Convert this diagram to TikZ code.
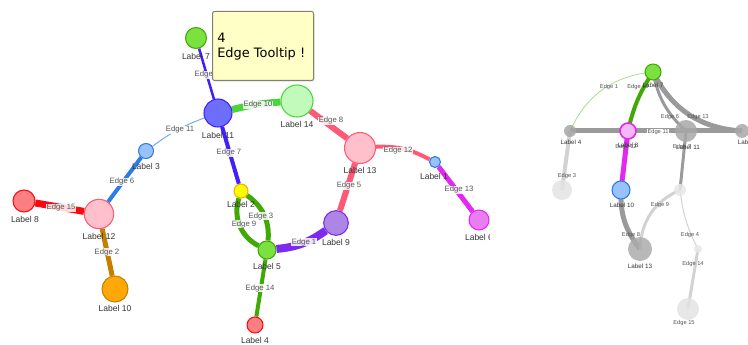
\documentclass[tikz,border=0pt]{standalone}
\usepackage{fontspec}
\setmainfont{Liberation Sans}
\newfontfamily\tipfont{DejaVu Sans}
\usetikzlibrary{shadows}
\pgfdeclarelayer{bg}
\pgfdeclarelayer{fg}
\pgfsetlayers{bg,main,fg}
\definecolor{gzbg}{HTML}{97C2FC}\definecolor{gzbd}{HTML}{2B7CE9}
\definecolor{gabg}{HTML}{FFFF00}\definecolor{gabd}{HTML}{FFA500}
\definecolor{gbbg}{HTML}{FB7E81}\definecolor{gbbd}{HTML}{FA0A10}
\definecolor{gcbg}{HTML}{7BE141}\definecolor{gcbd}{HTML}{41A906}
\definecolor{gdbg}{HTML}{EB7DF4}\definecolor{gdbd}{HTML}{E129F0}
\definecolor{gebg}{HTML}{AD85E4}\definecolor{gebd}{HTML}{7C29F0}
\definecolor{gfbg}{HTML}{FFA807}\definecolor{gfbd}{HTML}{C37F00}
\definecolor{ggbg}{HTML}{6E6EFD}\definecolor{ggbd}{HTML}{4220FB}
\definecolor{ghbg}{HTML}{FFC0CB}\definecolor{ghbd}{HTML}{FD5A77}
\definecolor{gibg}{HTML}{C2FABC}\definecolor{gibd}{HTML}{4AD63A}
\definecolor{labcol}{HTML}{343434}
\definecolor{elabcol}{HTML}{555555}
\definecolor{tipfill}{HTML}{FFFFC6}
\definecolor{tipline}{HTML}{808074}
\definecolor{darkg}{HTML}{9A9A9A}
\definecolor{lightg}{HTML}{D2D2D2}
\definecolor{paleg}{HTML}{A8E08C}
\tikzset{
  vn/.style={circle, inner sep=0pt, line width=0.8pt},
  grpz/.style={vn, fill=gzbg, draw=gzbd},
  grpa/.style={vn, fill=gabg, draw=gabd},
  grpb/.style={vn, fill=gbbg, draw=gbbd},
  grpc/.style={vn, fill=gcbg, draw=gcbd},
  grpd/.style={vn, fill=gdbg, draw=gdbd},
  grpe/.style={vn, fill=gebg, draw=gebd},
  grpf/.style={vn, fill=gfbg, draw=gfbd},
  grpg/.style={vn, fill=ggbg, draw=ggbd},
  grph/.style={vn, fill=ghbg, draw=ghbd},
  grpi/.style={vn, fill=gibg, draw=gibd},
  grayn/.style={circle, inner sep=0pt, fill=#1, fill opacity=0.85},
  nlab/.style={font=\fontsize{6.4}{7}\selectfont, text=labcol, inner sep=0pt},
  elab/.style={font=\fontsize{5.8}{6.5}\selectfont, text=elabcol, fill=white, fill opacity=0.85, text opacity=1, inner sep=0.4pt},
  rlab/.style={font=\fontsize{4.7}{5.2}\selectfont, text=labcol, inner sep=0pt},
  relab/.style={font=\fontsize{4.3}{5}\selectfont, text=elabcol, inner sep=0.3pt},
  edg/.style={line width=#1},
  tipbox/.style={draw=tipline, fill=tipfill, line width=0.75pt, rounded corners=1.5pt,
     drop shadow={opacity=0.25, shadow xshift=0.8pt, shadow yshift=-0.8pt}},
  tiptext/.style={font=\tipfont\fontsize{9.7}{11}\selectfont, inner sep=0pt, text=black},
}
\begin{document}
\begin{tikzpicture}[x=0.75pt,y=-0.75pt]
\useasboundingbox (0,0) rectangle (748,345);
% ---------- left network: nodes ----------
\node[grpc, minimum size=15.75pt] (n7) at (196,38) {};
\node[grpg, minimum size=21pt] (n11) at (218,113) {};
\node[grpi, minimum size=24pt] (n14) at (297,101) {};
\node[grph, minimum size=23.25pt] (n13) at (360,148) {};
\node[grpz, minimum size=8.25pt] (n1) at (435,162) {};
\node[grpd, minimum size=15pt] (n6) at (479,220) {};
\node[grpz, minimum size=11.25pt] (n3) at (146,151) {};
\node[grph, minimum size=22pt] (n12) at (99,214) {};
\node[grpb, minimum size=16.5pt] (n8) at (24,201) {};
\node[grpf, minimum size=19.5pt] (n10) at (115,289) {};
\node[grpa, minimum size=10.5pt] (n2) at (241,191) {};
\node[grpc, minimum size=13.5pt] (n5) at (267,250) {};
\node[grpe, minimum size=18.5pt] (n9) at (336,223) {};
\node[grpb, minimum size=12pt] (n4) at (255,325) {};
% ---------- left network: edges ----------
\begin{pgfonlayer}{bg}
\draw[edg=1.9pt, ggbd] (n7) -- (n11);
\draw[edg=5.25pt, gibd] (n11) to[bend left=5] (n14);
\draw[edg=4.5pt, ghbd] (n14) -- (n13);
\draw[edg=3pt, ghbd] (n13) to[bend left=15] (n1);
\draw[edg=3.75pt, gdbd] (n1) -- (n6);
\draw[edg=4.5pt, ghbd] (n13) -- (n9);
\draw[edg=6pt, gebd] (n9) to[bend left=15] (n5);
\draw[edg=3pt, ggbd] (n11) -- (n2);
\draw[edg=3.75pt, gcbd] (n2) to[bend left=30] (n5);
\draw[edg=3.75pt, gcbd] (n2) to[bend right=40] (n5);
\draw[edg=3pt, gcbd] (n5) -- (n4);
\draw[edg=0.75pt, gzbd!65] (n11) to[bend right=8] (n3);
\draw[edg=3pt, gzbd] (n3) -- (n12);
\draw[edg=5.25pt, gbbd] (n12) -- (n8);
\draw[edg=3.75pt, gfbd] (n12) -- (n10);
\end{pgfonlayer}
% ---------- left network: node labels ----------
\node[nlab] (t7) at (196,56) {Label 7};
\node[nlab] (t11) at (218,135) {Label 11};
\node[nlab] (t14) at (297,124) {Label 14};
\node[nlab] (t13) at (360,170) {Label 13};
\node[nlab] (t1) at (434,176) {Label 1};
\begin{scope}
\clip (0,0) rectangle (489,345);
\node[nlab] (t6) at (479,237) {Label 6};
\end{scope}
\node[nlab] (t3) at (146,166) {Label 3};
\node[nlab] (t12) at (99,236) {Label 12};
\node[nlab] (t8) at (25,219) {Label 8};
\node[nlab] (t10) at (115,308) {Label 10};
\node[nlab] (t2) at (241,204) {Label 2};
\node[nlab] (t5) at (267,266) {Label 5};
\node[nlab] (t9) at (336,242) {Label 9};
\node[nlab] (t4) at (255,340) {Label 4};
% ---------- left network: edge labels ----------
\node[elab] (l4) at (207,75) {Edge 4};
\node[elab] (l10) at (258,105) {Edge 10};
\node[elab] (l8) at (331,121) {Edge 8};
\node[elab] (l12) at (398,151) {Edge 12};
\node[elab] (l13) at (459,190) {Edge 13};
\node[elab] (l5) at (349,186) {Edge 5};
\node[elab] (l1) at (304,242) {Edge 1};
\node[elab] (l7) at (229,153) {Edge 7};
\node[elab] (l3) at (261,216) {Edge 3};
\node[elab] (l9) at (244,224) {Edge 9};
\node[elab] (l14) at (260,288) {Edge 14};
\node[elab] (l11) at (180,130) {Edge 11};
\node[elab] (l6) at (122,182) {Edge 6};
\node[elab] (l15) at (61,208) {Edge 15};
\node[elab] (l2) at (107,252) {Edge 2};
% ---------- right network: nodes ----------
\node[vn, fill=gcbg, draw=gcbd, minimum size=12pt] (r7) at (653,72) {};
\node[vn, fill=gdbg!55, draw=gdbd, line width=1.2pt, minimum size=12pt] (r8) at (628,131) {};
\node[grpz, minimum size=13.5pt] (r10) at (621,190) {};
\node[grayn={black!35}, minimum size=9pt] (r4) at (570,131) {};
\node[grayn={black!34}, minimum size=16.5pt] (r11) at (686,131) {};
\node[grayn={black!34}, minimum size=10.5pt] (rR) at (742,131) {};
\node[grayn={black!11}, minimum size=15pt] (r3) at (562,190) {};
\node[grayn={black!9}, minimum size=9pt] (r6) at (680,190) {};
\node[grayn={black!33}, minimum size=18pt] (r13) at (640,249) {};
\node[grayn={black!9}, minimum size=6pt] (r14) at (698,249) {};
\node[grayn={black!11}, minimum size=16.5pt] (r15) at (688,309) {};
% ---------- right network: edges ----------
\begin{pgfonlayer}{bg}
\draw[edg=0.6pt, paleg] (r4.center) to[bend left=30] (r7.center);
\draw[edg=3pt, gcbd] (r7.center) to[bend right=10] (r8.center);
\draw[edg=3.75pt, gdbd] (r8.center) -- (r10.center);
\draw[edg=3.75pt, darkg] (r4.center) -- (r8.center);
\draw[edg=3.75pt, darkg] (r8.center) -- (r11.center);
\draw[edg=3.75pt, darkg] (r11.center) -- (rR.center);
\draw[edg=2.25pt, darkg] (r7.center) to[bend right=18] (r11.center);
\draw[edg=3.75pt, darkg] (r7.center) to[bend right=30] (rR.center);
\draw[edg=2.25pt, darkg] (r11.center) -- (r6.center);
\draw[edg=3pt, lightg] (r4.center) -- (r3.center);
\draw[edg=3.75pt, darkg] (r10.center) to[bend right=20] (r13.center);
\draw[edg=2.25pt, lightg] (r13.center) to[bend left=32] (r6.center);
\draw[edg=0.75pt, lightg] (r6.center) to[bend right=10] (r14.center);
\draw[edg=2.25pt, lightg] (r14.center) -- (r15.center);
\end{pgfonlayer}
% ---------- right network: texts ----------
\node[relab] (s1) at (609,87) {Edge 1};
\node[relab] (s10) at (638,87) {Edge 10};
\node[rlab] (q7) at (653,85) {Label 7};
\node[relab] (s6) at (670,117) {Edge 6};
\node[relab] (s13) at (698,117) {Edge 13};
\node[relab, fill=white] (s11) at (658,132) {Edge 11};
\node[rlab] (q4) at (571,142) {Label 4};
\node[relab] (s12) at (626,147) {Edge 12};
\node[rlab] (q8) at (628,145) {Label 8};
\node[rlab] (q11) at (688,147) {Label 11};
\node[relab] (s7) at (682,147) {Edge 7};
\begin{scope}
\clip (0,0) rectangle (748,345);
\node[rlab] (qR) at (750,142) {Label 12};
\end{scope}
\node[relab] (s3) at (567,176) {Edge 3};
\node[rlab] (q10) at (622,205) {Label 10};
\node[relab] (s9) at (660,205) {Edge 9};
\node[relab] (s8) at (631,235) {Edge 8};
\node[relab] (s4) at (690,235) {Edge 4};
\node[rlab] (q13) at (640,266) {Label 13};
\node[relab] (s14) at (693,264) {Edge 14};
\node[relab] (s15) at (684,323) {Edge 15};
% ---------- tooltip ----------
\begin{pgfonlayer}{fg}
\node[tipbox, anchor=north west, minimum width=75.75pt, minimum height=51.75pt, inner sep=0pt] (tip) at (212,11) {};
\node[tiptext, anchor=base west] (tipa) at (217,43) {4};
\node[tiptext, anchor=base west] (tipb) at (217,58) {Edge Tooltip !};
\end{pgfonlayer}
\end{tikzpicture}
\end{document}
